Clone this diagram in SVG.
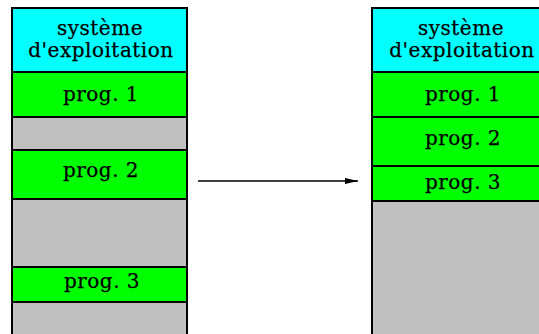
<svg xmlns="http://www.w3.org/2000/svg" width="539" height="334" viewBox="0 0 539 334">
<style>
.os{fill:#00ffff;stroke:#000;stroke-width:2}
.pr{fill:#00ff00;stroke:#000;stroke-width:2}
.fr{fill:#c0c0c0;stroke:#000;stroke-width:2}
text{font-family:"DejaVu Serif","Liberation Serif",serif;font-size:20px;fill:#000;text-anchor:middle;letter-spacing:0.5px;stroke:#000;stroke-width:0.25}
.c{stroke:#000;stroke-width:1.6;fill:none}
</style>
<defs>
<marker id="ah" markerWidth="14" markerHeight="8" refX="13" refY="4" orient="auto" markerUnits="userSpaceOnUse">
<path d="M0,1 L13,4 L0,7 Z" fill="#000"/>
</marker>
</defs>
<rect x="0" y="0" width="539" height="334" fill="#fff"/>
<g id="left-memory">
<g id="l-os"><rect class="os" x="12" y="8" width="175" height="64"/><text x="100" y="35">système</text><text x="101" y="57">d'exploitation</text></g>
<g id="l-prog1"><rect class="pr" x="12" y="72" width="175" height="45"/><text x="101" y="101">prog. 1</text></g>
<g id="l-free1"><rect class="fr" x="12" y="117" width="175" height="33"/></g>
<g id="l-prog2"><rect class="pr" x="12" y="150" width="175" height="49"/><text x="101" y="177">prog. 2</text></g>
<g id="l-free2"><rect class="fr" x="12" y="199" width="175" height="68"/></g>
<g id="l-prog3"><rect class="pr" x="12" y="267" width="175" height="35"/><text x="102" y="288">prog. 3</text></g>
<g id="l-free3"><rect class="fr" x="12" y="302" width="175" height="40"/></g>
</g>
<g id="right-memory">
<g id="r-os"><rect class="os" x="372" y="8" width="175" height="64"/><text x="461" y="35">système</text><text x="462" y="57">d'exploitation</text></g>
<g id="r-prog1"><rect class="pr" x="372" y="72" width="175" height="45"/><text x="463" y="101">prog. 1</text></g>
<g id="r-prog2"><rect class="pr" x="372" y="117" width="175" height="49"/><text x="463" y="145">prog. 2</text></g>
<g id="r-prog3"><rect class="pr" x="372" y="166" width="175" height="35"/><text x="463" y="189">prog. 3</text></g>
<g id="r-free"><rect class="fr" x="372" y="201" width="175" height="141"/></g>
</g>
<g id="connectors">
<line class="c" x1="198" y1="181" x2="358" y2="181" marker-end="url(#ah)"/>
</g>
</svg>
